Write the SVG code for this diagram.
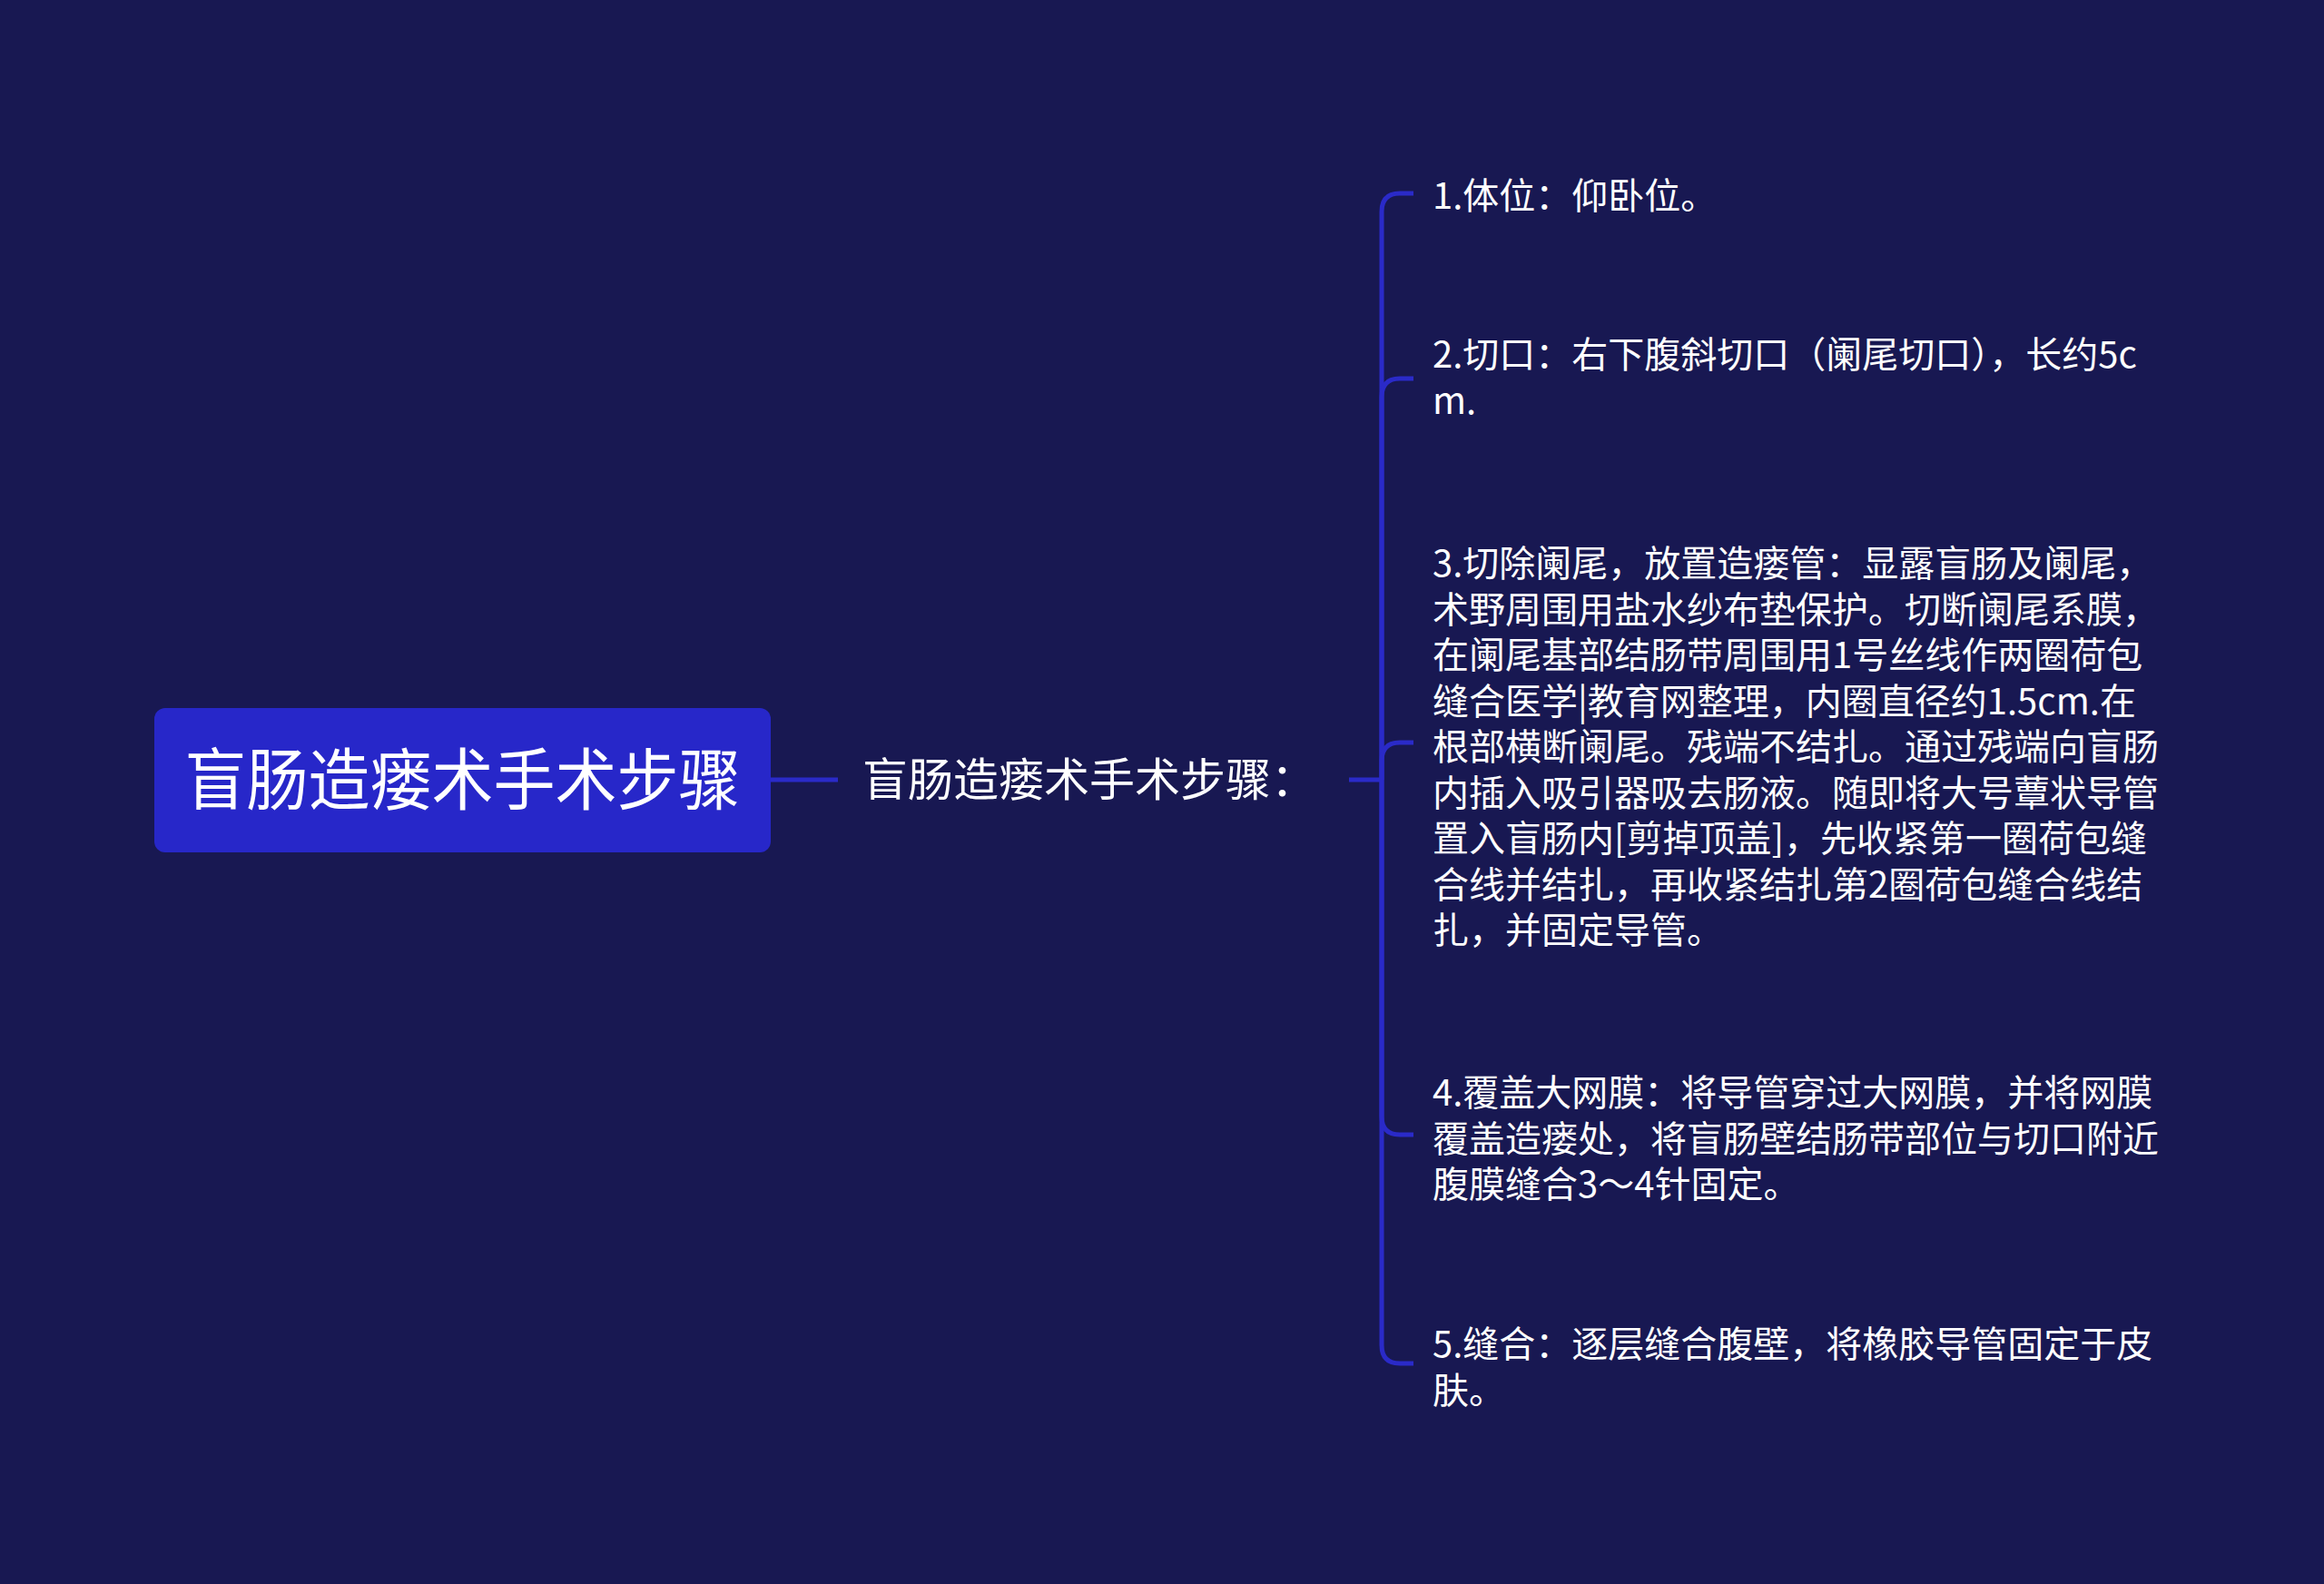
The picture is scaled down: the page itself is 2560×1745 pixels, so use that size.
<svg xmlns="http://www.w3.org/2000/svg" width="2560" height="1745" viewBox="0 0 2560 1745">
<style>
.bg{fill:#181852}
.root{fill:#2727c9}
.conn{fill:none;stroke:#2a2ac8;stroke-width:5;stroke-linecap:butt}
text{font-family:"Noto Sans CJK SC","Noto Sans",sans-serif;fill:#ffffff}
.t-root{font-size:74px;text-anchor:middle}
.t-sub{font-size:50px}
.t-leaf{font-size:40px}
</style>
<rect class="bg" x="0" y="0" width="2560" height="1745"/>
<g id="connectors">
<path class="conn" d="M849 859 H923"/>
<path class="conn" d="M1486 859 H1522"/>
<path class="conn" d="M1522 859 V233 Q1522 213 1542 213 H1557"/>
<path class="conn" d="M1522 859 V437 Q1522 417 1542 417 H1557"/>
<path class="conn" d="M1522 859 V838 Q1522 818 1542 818 H1557"/>
<path class="conn" d="M1522 859 V1230 Q1522 1250 1542 1250 H1557"/>
<path class="conn" d="M1522 859 V1482 Q1522 1502 1542 1502 H1557"/>
</g>
<g id="root">
<rect class="root" x="170" y="780" width="679" height="159" rx="12" ry="12"/>
<text class="t-root" x="509.5" y="886" textLength="612" lengthAdjust="spacingAndGlyphs">盲肠造瘘术手术步骤</text>
</g>
<g id="sub">
<text class="t-sub" x="950" y="877">盲肠造瘘术手术步骤：</text>
</g>
<g id="item1">
<text class="t-leaf" x="1578" y="230">1.体位：仰卧位。</text>
</g>
<g id="item2">
<text class="t-leaf"><tspan x="1578" y="405">2.切口：右下腹斜切口（阑尾切口），长约5c</tspan><tspan x="1578" y="455.5">m.</tspan></text>
</g>
<g id="item3">
<text class="t-leaf"><tspan x="1578" y="635">3.切除阑尾，放置造瘘管：显露盲肠及阑尾，</tspan><tspan x="1578" y="685.5">术野周围用盐水纱布垫保护。切断阑尾系膜，</tspan><tspan x="1578" y="736">在阑尾基部结肠带周围用1号丝线作两圈荷包</tspan><tspan x="1578" y="786.5">缝合医学|教育网整理，内圈直径约1.5cm.在</tspan><tspan x="1578" y="837">根部横断阑尾。残端不结扎。通过残端向盲肠</tspan><tspan x="1578" y="887.5">内插入吸引器吸去肠液。随即将大号蕈状导管</tspan><tspan x="1578" y="938">置入盲肠内[剪掉顶盖]，先收紧第一圈荷包缝</tspan><tspan x="1578" y="988.5">合线并结扎，再收紧结扎第2圈荷包缝合线结</tspan><tspan x="1578" y="1039">扎，并固定导管。</tspan></text>
</g>
<g id="item4">
<text class="t-leaf"><tspan x="1578" y="1218">4.覆盖大网膜：将导管穿过大网膜，并将网膜</tspan><tspan x="1578" y="1268.5">覆盖造瘘处，将盲肠壁结肠带部位与切口附近</tspan><tspan x="1578" y="1319">腹膜缝合3～4针固定。</tspan></text>
</g>
<g id="item5">
<text class="t-leaf"><tspan x="1578" y="1495">5.缝合：逐层缝合腹壁，将橡胶导管固定于皮</tspan><tspan x="1578" y="1545.5">肤。</tspan></text>
</g>
</svg>
